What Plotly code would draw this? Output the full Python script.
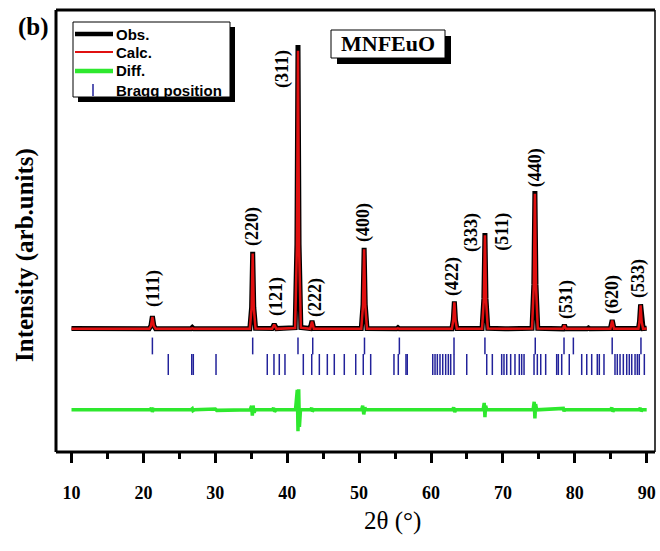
import plotly.graph_objects as go

# ---------------- data ----------------
two_theta = [10.0, 15.0, 20.8, 21.05, 21.25, 21.45, 21.7, 26.6, 26.8, 27.0,
             34.8, 35.05, 35.2, 35.35, 35.6, 37.9, 38.2, 38.5,
             41.1, 41.35, 41.5, 41.65, 41.9, 43.2, 43.45, 43.7,
             50.3, 50.55, 50.7, 50.85, 51.1, 55.2, 55.4, 55.6, 56.8, 57.0, 57.2,
             62.9, 63.1, 63.25, 63.4, 63.6, 67.1, 67.35, 67.5, 67.65, 67.9,
             69.9, 70.1, 70.3, 74.05, 74.3, 74.45, 74.6, 74.85,
             78.35, 78.55, 78.75, 81.7, 81.9, 82.1, 84.95, 85.2, 85.45,
             88.85, 89.0, 89.15, 89.3, 89.5, 90.0]
obs = [0.5, 0.4, 0.4, 1.5, 4.9, 1.5, 0.4, 0.4, 0.9, 0.4,
       0.4, 8.0, 27.4, 8.0, 0.6, 0.5, 2.1, 0.5,
       0.8, 30.0, 100.0, 30.0, 0.9, 0.5, 3.2, 0.5,
       0.5, 9.0, 28.8, 9.0, 0.5, 0.4, 0.8, 0.4, 0.4, 0.7, 0.4,
       0.4, 3.5, 10.0, 3.5, 0.5, 0.5, 11.0, 34.0, 11.0, 0.6,
       0.4, 0.7, 0.4, 0.6, 16.0, 48.8, 16.0, 0.6,
       0.4, 1.8, 0.4, 0.4, 0.7, 0.4, 0.5, 3.5, 0.5,
       0.5, 3.0, 9.0, 3.0, 0.5, 0.6]
calc = [0.4, 0.4, 0.4, 1.4, 4.6, 1.4, 0.4, 0.4, 0.6, 0.4,
        0.4, 7.8, 26.8, 7.8, 0.5, 0.4, 1.9, 0.4,
        0.7, 29.0, 98.0, 29.0, 0.8, 0.4, 3.0, 0.4,
        0.4, 8.8, 28.3, 8.8, 0.4, 0.4, 0.6, 0.4, 0.4, 0.5, 0.4,
        0.4, 3.4, 9.7, 3.4, 0.4, 0.4, 10.7, 33.2, 10.7, 0.5,
        0.4, 0.5, 0.4, 0.5, 15.6, 47.8, 15.6, 0.5,
        0.4, 1.7, 0.4, 0.4, 0.5, 0.4, 0.4, 3.3, 0.4,
        0.4, 2.9, 8.7, 2.9, 0.4, 0.5]

diff_x = [10.0, 20.9, 21.1, 21.25, 21.4, 21.6, 26.6, 26.8, 26.9, 27.1,
          30.0, 30.2, 34.85, 35.05, 35.15, 35.25, 35.4, 35.55, 37.9, 38.1,
          38.25, 38.45, 41.15, 41.3, 41.4, 41.5, 41.6, 41.7, 41.85, 43.25,
          43.4, 43.5, 43.65, 50.35, 50.5, 50.65, 50.8, 50.95, 63.0, 63.15,
          63.3, 63.45, 67.25, 67.4, 67.5, 67.6, 67.75, 74.2, 74.35, 74.45,
          74.55, 74.7, 78.4, 78.5, 78.6, 84.95, 85.15, 85.3, 85.45, 88.9,
          89.1, 89.25, 89.4, 90.0]
diff_y = [-28.0, -28.0, -27.4, -28.7, -27.8, -28.0, -28.0, -27.6, -28.3, -28.0,
          -27.7, -28.2, -28.0, -26.6, -30.0, -26.5, -29.0, -28.0, -28.0, -27.4,
          -28.6, -28.0, -28.0, -25.0, -21.0, -35.5, -20.8, -34.0, -28.0, -28.0,
          -27.3, -28.6, -28.0, -28.0, -26.6, -29.6, -27.2, -28.0, -28.0, -27.2,
          -28.8, -28.0, -28.0, -25.6, -30.6, -26.6, -28.0, -28.0, -25.2, -31.0,
          -26.0, -28.0, -27.5, -28.5, -28.0, -28.0, -27.3, -28.6, -28.0, -28.0,
          -27.4, -28.5, -28.0, -28.0]

bragg_main = [21.25, 35.2, 41.5, 43.55, 50.75, 55.6, 63.2, 67.5, 74.5, 78.5, 79.8, 85.2, 89.2]
bragg_second = [23.46, 26.72, 26.94, 30.10, 37.23, 38.16, 38.90, 39.69, 42.24, 43.41,
                44.47, 45.58, 46.55, 47.94, 49.53, 50.58, 51.61,
                54.85, 55.45, 56.52, 56.70, 60.24, 60.56, 60.88, 61.25, 61.63, 62.04,
                62.41, 62.74, 63.20, 64.97, 67.75, 68.53, 69.83, 70.15, 70.53, 71.08,
                71.68, 72.28, 72.61, 72.94, 74.33, 74.79, 75.26, 75.95, 77.48, 77.71,
                78.18, 79.23, 80.96, 81.66, 82.35, 83.13, 83.41, 84.06, 85.59, 85.91,
                86.29, 86.75, 87.22, 87.58, 87.92, 88.38, 88.70, 88.97, 89.67]

hkl_labels = ["(111)", "(220)", "(121)", "(311)", "(222)", "(400)", "(422)",
              "(333)", "(511)", "(440)", "(531)", "(620)", "(533)"]
hkl_label_x = [21.33, 35.24, 38.44, 39.42, 44.0, 50.68, 63.06, 65.7, 70.0, 74.47, 78.78, 85.17, 88.93]
hkl_label_y = [14.7, 36.5, 11.9, 91.6, 11.6, 37.9, 18.6, 34.4, 34.4, 56.8, 10.5, 12.6, 17.9]

legend_names = ["Obs.", "Calc.", "Diff.", "Bragg position"]

x_ticks = [10, 20, 30, 40, 50, 60, 70, 80, 90]

# ---------------- layout helpers ----------------
L, R, T, B = 56, 655, 10, 452
W, H = 660, 551


def px(x):
    return (x - L) / (R - L)


def py(y):
    return (B - y) / (B - T)


SERIF = "Liberation Serif"
SANS = "Liberation Sans"
OBS_C, CALC_C, DIFF_C, BRAGG_C = "black", "#e01010", "#2ee82e", "#22229a"

fig = go.Figure()

fig.add_trace(go.Scatter(x=two_theta, y=obs, mode="lines", name=legend_names[0],
                         line=dict(color=OBS_C, width=5)))
fig.add_trace(go.Scatter(x=two_theta, y=calc, mode="lines", name=legend_names[1],
                         line=dict(color=CALC_C, width=2.5)))
fig.add_trace(go.Scatter(x=diff_x, y=diff_y, mode="lines", name=legend_names[2],
                         line=dict(color=DIFF_C, width=3.5)))
fig.add_trace(go.Scatter(x=bragg_main, y=[-5.6] * len(bragg_main), mode="markers",
                         name=legend_names[3],
                         marker=dict(symbol="line-ns", size=12,
                                     line=dict(color=BRAGG_C, width=1.5))))
fig.add_trace(go.Scatter(x=bragg_second, y=[-12.1] * len(bragg_second), mode="markers",
                         name=legend_names[3] + " (2)",
                         marker=dict(symbol="line-ns", size=15,
                                     line=dict(color=BRAGG_C, width=1.5))))

annotations = []
for t, xx, yy in zip(hkl_labels, hkl_label_x, hkl_label_y):
    annotations.append(dict(x=xx, y=yy, xref="x", yref="y", text=t, textangle=-90,
                            showarrow=False, xanchor="center", yanchor="middle",
                            font=dict(family=SERIF, size=18, color="black", weight="bold")))

annotations += [
    dict(x=px(25), y=py(255), xref="paper", yref="paper", text="Intensity (arb.units)",
         textangle=-90, showarrow=False, xanchor="center", yanchor="middle",
         font=dict(family=SERIF, size=25, color="black", weight="bold")),
    dict(x=px(392), y=py(521), xref="paper", yref="paper", text="2θ (°)",
         showarrow=False, xanchor="center", yanchor="middle",
         font=dict(family=SERIF, size=25, color="black")),
    dict(x=px(33), y=py(27), xref="paper", yref="paper", text="(b)",
         showarrow=False, xanchor="center", yanchor="middle",
         font=dict(family=SERIF, size=25, color="black", weight="bold")),
    dict(x=px(388), y=py(44), xref="paper", yref="paper", text="MNFEuO",
         showarrow=False, xanchor="center", yanchor="middle",
         font=dict(family=SERIF, size=22, color="black", weight="bold")),
]

# legend drawn by hand (tight spacing like the original)
leg_rows = [34, 52, 71, 90]
for name, yy in zip(legend_names, leg_rows):
    annotations.append(dict(x=px(114), y=py(yy), xref="paper", yref="paper", text=name,
                            showarrow=False, xanchor="left", yanchor="middle",
                            font=dict(family=SANS, size=15, color="black", weight="bold")))


def rect(x0, y0, x1, y1, fill, lw=0, lc="black"):
    return dict(type="rect", xref="paper", yref="paper",
                x0=px(x0), x1=px(x1), y0=py(y1), y1=py(y0),
                fillcolor=fill, line=dict(width=lw, color=lc), layer="above")


def pline(x0, y0, x1, y1, w, c="black"):
    return dict(type="line", xref="paper", yref="paper",
                x0=px(x0), x1=px(x1), y0=py(y0), y1=py(y1),
                line=dict(color=c, width=w), layer="above")


shapes = [
    # legend box with shadow
    rect(78, 27, 235, 102, "black"),
    rect(73, 22, 230, 97, "white", 1),
    pline(75, leg_rows[0], 113, leg_rows[0], 4.5, OBS_C),
    pline(75, leg_rows[1], 113, leg_rows[1], 2, CALC_C),
    pline(75, leg_rows[2], 113, leg_rows[2], 4.5, DIFF_C),
    pline(93, leg_rows[3] - 6, 93, leg_rows[3] + 6, 1.5, BRAGG_C),
    # sample-name box with shadow
    rect(337, 36, 451, 64, "black"),
    rect(331, 30, 445, 58, "white", 1),
    # frame
    pline(L, T, R, T, 3),
    pline(L, T, L, B, 3),
    pline(L, B, R, B, 3),
    pline(R, T, R, B, 1.5),
]

fig.update_layout(
    width=W, height=H,
    margin=dict(l=L, r=W - R, t=T, b=H - B),
    paper_bgcolor="white", plot_bgcolor="white",
    showlegend=False,
    annotations=annotations,
    shapes=shapes,
    hovermode=False,
)

y_bottom = -(B - 330) / 2.85
y_top = (330 - T) / 2.85
x_left = 10 - (71.5 - L) / 7.19
x_right = 10 + (R - 71.5) / 7.19

fig.update_xaxes(range=[x_left, x_right], tickvals=x_ticks, ticks="outside",
                 ticklen=10, tickwidth=3, tickcolor="black",
                 ticklabelstandoff=14,
                 minor=dict(dtick=5, tick0=0, ticks="outside", ticklen=6, tickwidth=2.5,
                            tickcolor="black", showgrid=False),
                 showgrid=False, zeroline=False, showline=False,
                 tickfont=dict(family=SERIF, size=18, color="black", weight="bold"))
fig.update_yaxes(range=[y_bottom, y_top], showticklabels=False, ticks="",
                 showgrid=False, zeroline=False, showline=False)

fig.write_html("out.html")
